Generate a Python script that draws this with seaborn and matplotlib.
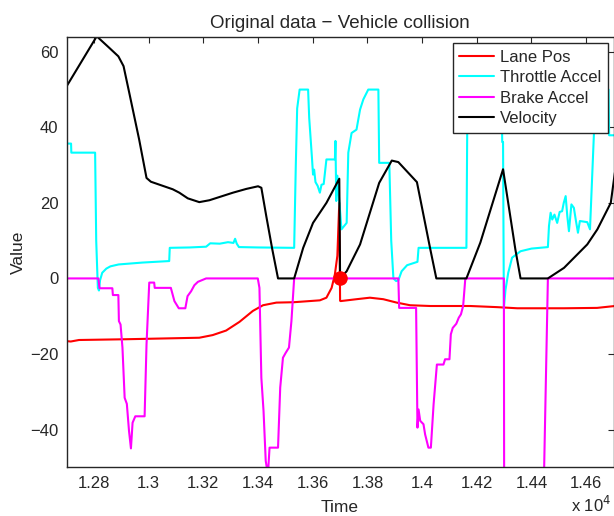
import numpy as np
import pandas as pd
import seaborn as sns
import matplotlib
matplotlib.use("Agg")
import matplotlib.pyplot as plt
from matplotlib.ticker import FuncFormatter

# values (time in raw units, x 10^4 on the axis)
lane_t = [12700, 12715, 12745, 12916, 13185, 13234, 13283, 13332, 13381, 13418, 13467, 13530,
          13626, 13650, 13669, 13681, 13690, 13697, 13700, 13702, 13760, 13809, 13858, 13907,
          13956, 14030, 14176, 14274, 14348, 14520, 14640, 14705]
lane_v = [-16.6, -16.7, -16.3, -16.1, -15.7, -15.0, -13.8, -11.5, -8.6, -7.1, -6.4, -6.3,
          -5.8, -5.1, -2.5, 1.1, 6.0, 20.0, -5.9, -6.0, -5.5, -5.1, -5.5, -6.4,
          -7.1, -7.3, -7.3, -7.6, -7.9, -7.9, -7.8, -7.3]

thr_t = [12700, 12716, 12717, 12804, 12808, 12814, 12818, 12822, 12830, 12845, 12860, 12890,
         12977, 13075, 13077, 13150, 13210, 13225, 13260, 13290, 13310, 13316, 13322, 13330,
         13400, 13532, 13538, 13543, 13552, 13583, 13587, 13597, 13601, 13605, 13610, 13618,
         13626, 13632, 13640, 13650, 13681, 13683, 13686, 13690, 13705, 13724, 13730, 13742,
         13760, 13773, 13785, 13803, 13840, 13843, 13880, 13887, 13895, 13905, 13913, 13925,
         13945, 13983, 13987, 14162, 14166, 14290, 14293, 14296, 14299, 14305, 14315, 14329,
         14360, 14400, 14460, 14464, 14470, 14476, 14484, 14494, 14503, 14512, 14518, 14525,
         14531, 14537, 14546, 14555, 14562, 14570, 14577, 14604, 14614, 14629, 14632, 14682,
         14684, 14705]
thr_v = [35.7, 35.7, 33.3, 33.3, 10.0, -2.5, -3.2, -0.5, 1.5, 2.6, 3.2, 3.7,
         4.2, 4.6, 8.1, 8.2, 8.4, 9.3, 9.2, 9.6, 9.4, 10.5, 9.2, 8.3,
         8.2, 8.1, 30.0, 45.0, 50.0, 50.0, 42.5, 32.0, 27.5, 28.8, 25.5, 24.5,
         22.7, 24.8, 25.0, 31.5, 31.5, 36.4, 20.5, 27.2, 13.0, 14.7, 33.3, 38.5,
         39.4, 44.7, 47.4, 50.0, 50.0, 30.6, 30.6, 10.0, 0.0, -0.7, -0.5, 1.9,
         3.5, 4.4, 8.1, 8.1, 50.0, 50.0, 36.1, 36.1, -7.8, -3.0, 1.5, 5.5,
         7.2, 7.9, 8.3, 13.9, 17.4, 15.6, 16.9, 14.7, 17.6, 17.8, 20.0, 21.8,
         16.5, 12.5, 19.6, 18.7, 15.5, 12.1, 15.2, 14.9, 13.0, 39.4, 50.0, 50.0,
         37.9, 37.9]

brk_t = [12700, 12816, 12820, 12867, 12869, 12889, 12891, 12897, 12904, 12912, 12920, 12928,
         12935, 12941, 12951, 12985, 12992, 13002, 13020, 13022, 13081, 13094, 13110, 13134,
         13142, 13155, 13167, 13180, 13210, 13399, 13405, 13412, 13420, 13428, 13436, 13442,
         13473, 13481, 13491, 13501, 13513, 13522, 13532, 13913, 13916, 13978, 13983, 13987,
         13993, 14005, 14011, 14023, 14032, 14042, 14054, 14078, 14084, 14100, 14105, 14112,
         14125, 14134, 14142, 14150, 14158, 14299, 14300, 14445, 14460, 14705]
brk_v = [0, 0, -2.6, -2.6, -4.4, -4.4, -11.3, -12.2, -18.3, -31.6, -33.2, -40.4,
         -45.0, -38.2, -36.5, -36.5, -17.5, -1.1, -1.1, -2.5, -2.5, -6.0, -7.9, -7.9,
         -4.7, -3.4, -1.8, -0.9, 0, 0, -2.5, -26.3, -35.1, -48.3, -52.0, -44.8,
         -44.8, -28.9, -21.0, -19.7, -18.3, -11.3, 0, 0, -7.8, -7.8, -39.5, -34.7,
         -37.7, -38.6, -41.3, -44.8, -44.8, -33.3, -22.8, -22.8, -21.4, -21.4, -14.8, -13.1,
         -12.0, -10.4, -9.5, -7.3, 0, 0, -55.0, -55.0, 0, 0]

vel_t = [12700, 12810, 12855, 12889, 12908, 12929, 12965, 12992, 13008, 13088, 13112, 13143,
         13185, 13222, 13308, 13357, 13400, 13412, 13430, 13452, 13473, 13532, 13565, 13601,
         13650, 13697, 13700, 13724, 13773, 13843, 13889, 13913, 13981, 14030, 14052, 14162,
         14213, 14296, 14341, 14360, 14460, 14519, 14604, 14641, 14690, 14705]
vel_v = [50.9, 64.1, 61.1, 58.8, 56.2, 49.1, 36.8, 26.6, 25.6, 23.6, 22.7, 21.2,
         20.2, 20.7, 22.7, 23.7, 24.4, 24.0, 16.5, 7.7, 0, 0, 8.1, 14.7,
         20.0, 26.4, 0, 1.9, 9.0, 25.3, 31.2, 30.8, 25.5, 7.7, 0, 0,
         9.5, 28.9, 7.7, 0, 0, 2.8, 9.0, 13.0, 20.0, 28.0]

collision_t = [13700]
collision_v = [0]

series = [
    ("Lane Pos", lane_t, lane_v, "#ff0000"),
    ("Throttle Accel", thr_t, thr_v, "#00ffff"),
    ("Brake Accel", brk_t, brk_v, "#ff00ff"),
    ("Velocity", vel_t, vel_v, "#000000"),
]

sns.set_theme(style="white")
plt.rcParams["font.family"] = ["Liberation Sans", "DejaVu Sans"]
plt.rcParams["font.size"] = 12

fig = plt.figure(figsize=(6.14, 5.16), dpi=100)
ax = fig.add_axes([0.1086, 0.0944, 0.8906, 0.8345])

for name, t, v, col in series:
    df = pd.DataFrame({"Time": t, "Value": v})
    sns.lineplot(data=df, x="Time", y="Value", color=col, label=name, ax=ax,
                 estimator=None, sort=False, linewidth=1.5)

# collision point
sns.scatterplot(x=collision_t, y=collision_v, color="#ff0000", s=110,
                edgecolor="#ff0000", linewidth=0, ax=ax, zorder=5, legend=False)

ax.set_xlim(12700, 14700)
ax.set_ylim(-50, 64)
ax.set_xticks(np.arange(12800, 14700, 200))
ax.set_yticks([-40, -20, 0, 20, 40, 60])
ax.xaxis.set_major_formatter(FuncFormatter(lambda x, p: f"{x / 1e4:g}"))
ax.tick_params(direction="in", length=4, width=0.8, top=True, right=True,
               labelsize=12, colors="#262626", pad=6)
for s in ax.spines.values():
    s.set_color("#262626")
    s.set_linewidth(1.0)

ax.set_title("Original data \u2212 Vehicle collision", fontsize=13.5, pad=6)
ax.set_xlabel("Time", fontsize=12.5, labelpad=7)
ax.set_ylabel("Value", fontsize=12.5, labelpad=3)
fig.text(0.962, 0.002, "x 10$^4$", fontsize=12, ha="center", va="bottom")

leg = ax.legend(loc="upper right", bbox_to_anchor=(0.990, 0.985), borderaxespad=0,
                fontsize=12, frameon=True, fancybox=False, framealpha=1,
                edgecolor="#262626", labelspacing=0.33, borderpad=0.4,
                handlelength=2.1, handletextpad=0.35)
leg.get_frame().set_linewidth(1.0)

fig.savefig("out.png", dpi=100)
